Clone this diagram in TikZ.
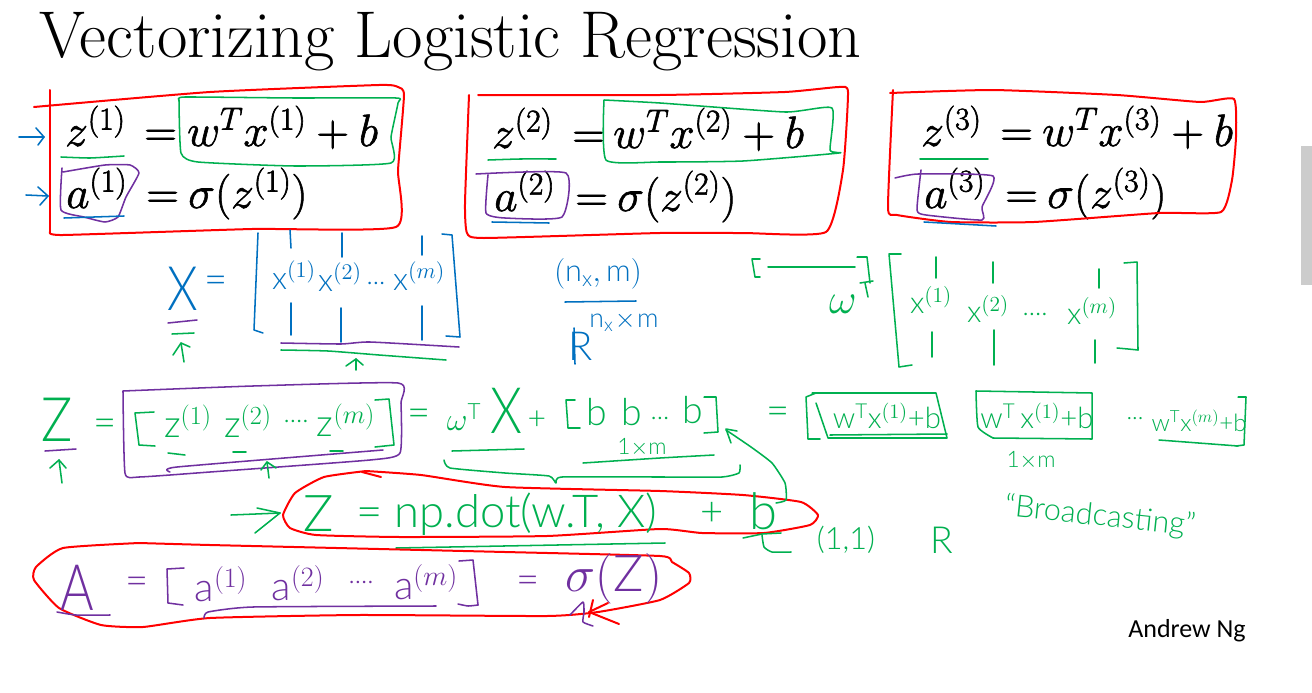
\documentclass[tikz,border=0pt]{standalone}
\usepackage{fix-cm}
\usepackage{fontspec}
\setsansfont{Lato Light}
\newfontfamily\ngfont{Carlito}
\definecolor{gr}{HTML}{00B050}
\definecolor{bl}{HTML}{0070C0}
\definecolor{pu}{HTML}{7030A0}
\definecolor{re}{HTML}{FF0000}
\newcommand{\curve}[2]{\draw[#1] plot[smooth,tension=0.3] coordinates {#2};}
\newcommand{\sx}{\mathsf{x}}
\newcommand{\sz}{\mathsf{z}}
\newcommand{\sa}{\mathsf{a}}
\newcommand{\sw}{\mathsf{w}}
\newcommand{\heavy}[1]{\special{pdf:code 2 Tr 0.45 w}#1\special{pdf:code 0 Tr}}
\tikzset{
  ink/.style={line width=1.15pt,line cap=round,line join=round},
  gk/.style={ink,draw=gr},
  bk/.style={ink,draw=bl},
  pk/.style={ink,draw=pu},
  rk/.style={line width=1.5pt,line cap=round,line join=round,draw=re},
  fs/.style={inner sep=0pt,font=\fontsize{#1}{#1}\selectfont\sffamily},
  prm/.style={inner sep=0pt,anchor=base west,text=black,font=\fontsize{34}{34}\selectfont},
}
\begin{document}
\begin{tikzpicture}[x=0.75pt,y=-0.75pt]
\useasboundingbox (0,0) rectangle (1312,692);
\fill[white] (0,0) rectangle (1312,692);
\fill[black!20] (1301,146) rectangle (1312,285);
% title
\node[inner sep=0pt,anchor=base west,font=\fontsize{49.6}{50}\selectfont] (title) at (39,58) {Vectorizing Logistic Regression};
\node[inner sep=0pt,font=\ngfont\fontsize{19.5}{20}\selectfont] (ng) at (1187,631) {Andrew Ng};
% printed equations
\node[prm] (z1) at (65,146) {\heavy{$z^{(1)}$}};
\node[prm] (e1) at (144,146) {\heavy{$=$}};
\node[prm] (r1) at (187,146) {\heavy{$w^Tx^{(1)}+b$}};
\node[prm] (a1) at (66,208) {\heavy{$a^{(1)}$}};
\node[prm] (f1) at (146,208) {\heavy{$=$}};
\node[prm] (s1) at (188,208) {\heavy{$\sigma(z^{(1)})$}};
\node[prm] (z2) at (492,148) {\heavy{$z^{(2)}$}};
\node[prm] (e2) at (572,148) {\heavy{$=$}};
\node[prm] (r2) at (613,148) {\heavy{$w^Tx^{(2)}+b$}};
\node[prm] (a2) at (494,211) {\heavy{$a^{(2)}$}};
\node[prm] (f2) at (575,211) {\heavy{$=$}};
\node[prm] (s2) at (617,211) {\heavy{$\sigma(z^{(2)})$}};
\node[prm] (z3) at (921,146) {\heavy{$z^{(3)}$}};
\node[prm] (e3) at (1000,146) {\heavy{$=$}};
\node[prm] (r3) at (1042,146) {\heavy{$w^Tx^{(3)}+b$}};
\node[prm] (a3) at (924,208) {\heavy{$a^{(3)}$}};
\node[prm] (f3) at (1005,208) {\heavy{$=$}};
\node[prm] (s3) at (1047,208) {\heavy{$\sigma(z^{(3)})$}};
% red boxes
\curve{rk}{(34,107)(210,92)(379,85)(398,87)(404,95)(398,170)(396,227)(252,229)(63,235)(50,232)}
\draw[rk] (50,232) -- (50,90);
\curve{rk}{(478,95)(660,95)(785,92)(839,87)(848,92)(843,170)(826,232)(743,233)(660,233)(484,238)(467,233)(465,203)(469,95)}
\curve{rk}{(890,93)(993,90)(1117,95)(1200,102)(1234,99)(1236,137)(1232,180)(1221,212)(1159,213)(1034,222)(951,222)(897,215)(888,208)(893,90)}
% green boxes and underlines
\curve{gk}{(179,100)(185,97)(295,98)(396,98)(398,103)(391,137)(391,163)(295,166)(198,162)(181,153)(179,100)}
\curve{gk}{(604,100)(660,103)(785,112)(832,108)(830,150)(839,153)(743,161)(660,162)(606,160)(604,100)}
\curve{gk}{(61,157)(90,158)(124,156)}
\curve{gk}{(488,160)(520,159)(556,159)}
\curve{gk}{(920,159)(988,159)}
% purple boxes
\curve{pk}{(62,168)(61,210)(84,217)(105,222)(118,217)(126,197)(139,173)(130,165)(105,165)(63,172)}
\curve{pk}{(476,174)(566,173)(562,217)(505,218)(486,213)(488,175)}
\curve{pk}{(895,178)(918,174)(993,176)(982,207)(982,220)(926,215)(917,210)(921,170)}
% blue marks
\draw[bk] (64,218) -- (124,216);
\draw[bk] (492,222) -- (549,223);
\draw[bk] (924,222) -- (996,226);
\draw[bk] (19,137) -- (44,137);
\draw[bk] (36,128) -- (44,137) -- (38,145);
\draw[bk] (26,195) -- (48,196);
\draw[bk] (38,187) -- (48,196) -- (40,205);
% X matrix
\node[fs=46,text=bl,xscale=0.8] (bigx) at (183,289) {X};
\node[fs=30,text=bl] (xeq) at (216,285) {=};
\draw[pk] (168,323) -- (197,320);
\draw[gk] (172,334) -- (194,333);
\draw[gk] (184,362) -- (181,343);
\draw[gk] (173,355) -- (181,343) -- (190,347);
\draw[bk] (258,233) -- (254,330) -- (263,333);
\draw[bk] (442,234) -- (452,235) -- (460,337) -- (446,336);
\draw[bk] (290,230) -- (291,248);
\draw[bk] (291,303) -- (291,335);
\draw[bk] (342,233) -- (342,257);
\draw[bk] (341,308) -- (341,342);
\draw[bk] (422,236) -- (422,255);
\draw[bk] (422,306) -- (422,340);
\node[fs=24,text=bl] (mx1) at (294,275) {$\sx^{(1)}$};
\node[fs=24,text=bl] (mx2) at (340,277) {$\sx^{(2)}$};
\node[fs=20,text=bl] (mxd) at (376,283) {...};
\node[fs=24,text=bl] (mx3) at (419,276) {$\sx^{(m)}$};
\curve{pk}{(281,343)(341,344)(370,342)(459,347)}
\curve{gk}{(281,350)(328,351)(379,355)(446,360)}
\draw[gk] (356,370) -- (356,359);
\draw[gk] (346,366) -- (356,359) -- (363,365);
% dimensions
\node[fs=23,text=bl] (dim) at (598,274) {$(\mathsf{n}_{\mathsf{x}},\mathsf{m})$};
\draw[bk] (565,302) -- (636,301);
\node[fs=30,text=bl] (rr) at (581,346) {R};
\draw[bk] (574,328) -- (575,364);
\node[fs=20,text=bl] (rexp) at (624,322) {$\mathsf{n}_{\mathsf{x}}\!\times\!\mathsf{m}$};
% green matrix
\draw[gk] (760,259) -- (752,259) -- (755,277) -- (760,277);
\draw[gk] (768,267) -- (855,267);
\draw[gk] (857,257) -- (867,257) -- (870,283);
\node[fs=32,text=gr] (w2) at (843,304) {$\omega$};
\draw[gk] (860,283) -- (873,281);
\draw[gk] (865,283) -- (868,297);
\draw[gk] (901,254) -- (889,254) -- (899,367) -- (912,365);
\draw[gk] (1124,263) -- (1137,262) -- (1138,350);
\curve{gk}{(1138,350)(1128,349)(1117,348)}
\draw[gk] (936,257) -- (936,278);
\draw[gk] (932,332) -- (932,357);
\draw[gk] (993,262) -- (993,283);
\draw[gk] (994,330) -- (994,365);
\draw[gk] (1099,269) -- (1099,288);
\draw[gk] (1095,340) -- (1095,363);
\node[fs=23,text=gr] (gx1) at (931,300) {$\sx^{(1)}$};
\node[fs=23,text=gr] (gx2) at (988,309) {$\sx^{(2)}$};
\node[fs=20,text=gr] (gxd) at (1035,314) {....};
\node[fs=23,text=gr] (gx3) at (1092,311) {$\sx^{(m)}$};
% Z row
\node[fs=46,text=gr,xscale=0.85] (bigz) at (57,420) {Z};
\draw[pk] (45,451) -- (76,449);
\draw[gk] (62,483) -- (59,460);
\draw[gk] (50,468) -- (59,460) -- (66,468);
\node[fs=30,text=gr] (zeq) at (105,428) {=};
\curve{pk}{(123,391)(253,386)(398,383)(401,403)(400,453)(370,460)(210,472)(139,477)(125,473)(123,391)}
\curve{pk}{(170,472)(177,467)(383,450)}
\draw[gk] (154,412) -- (135,413) -- (139,445) -- (155,446);
\draw[gk] (375,400) -- (389,399) -- (394,445) -- (375,447);
\node[fs=28,text=gr] (zz1) at (188,421) {$\sz^{(1)}$};
\node[fs=28,text=gr] (zz2) at (248,421) {$\sz^{(2)}$};
\node[fs=20,text=gr] (zzd) at (296,421) {....};
\node[fs=28,text=gr] (zz3) at (346,420) {$\sz^{(m)}$};
\draw[gk] (168,453) -- (185,455);
\draw[gk] (233,452) -- (246,452);
\draw[gk] (330,451) -- (343,451);
\draw[gk] (269,478) -- (267,462);
\draw[gk] (261,470) -- (267,462) -- (276,468);
\node[fs=30,text=gr] (zeq2) at (419,418) {=};
\node[fs=24,text=gr] (wt) at (464,417) {$\omega^{\mathsf{T}}$};
\node[fs=48,text=gr,xscale=0.8] (bigx2) at (506,411) {X};
\node[fs=24,text=gr] (plus) at (537,420) {+};
\draw[gk] (575,400) -- (566,400) -- (568,428) -- (580,428);
\node[fs=28,text=gr] (bb1) at (597,412) {b};
\node[fs=28,text=gr] (bb2) at (632,412) {b};
\node[fs=20,text=gr] (bbd) at (660,418) {...};
\node[fs=28,text=gr] (bb3) at (693,410) {b};
\draw[gk] (704,397) -- (716,397) -- (718,432) -- (704,433);
\draw[gk] (452,451) -- (524,449);
\node[fs=17,text=gr] (sz1) at (642,447) {1$\times$m};
\curve{gk}{(583,463)(660,458)(714,455)}
\curve{gk}{(444,460)(450,468)(505,473)(549,476)(556,483)(562,477)(660,477)(722,477)(739,473)(740,465)}
% right result
\node[fs=30,text=gr] (req) at (778,416) {=};
\draw[gk] (816,393) -- (806,397) -- (808,439) -- (820,439);
\draw[gk] (812,393) -- (936,393) -- (947,438) -- (828,438) -- (816,403);
\draw[gk] (830,435) -- (947,434);
\node[fs=22,text=gr] (t1) at (887,416) {$\sw^{\mathsf{T}}\sx^{(1)}$+b};
\draw[gk] (976,391) -- (1092,393) -- (1092,439) -- (993,438);
\curve{gk}{(993,438)(978,427)(976,391)}
\node[fs=22,text=gr] (t2) at (1037,416) {$\sw^{\mathsf{T}}\,\sx^{(1)}$+b};
\node[fs=17,text=gr] (sz2) at (1031,460) {1$\times$m};
\node[fs=18,text=gr] (rd) at (1135,419) {...};
\node[fs=18,text=gr] (t3) at (1199,421) {$\sw^{\mathsf{T}}\sx^{(m)}$+b};
\draw[gk] (1238,397) -- (1246,397) -- (1244,445) -- (1236,446);
\draw[gk] (1159,440) -- (1238,446);
% np.dot line
\curve{rk}{(366,471)(421,475)(505,487)(660,491)(743,495)(801,502)(818,515)(810,525)(764,533)(702,533)(660,529)(547,536)(400,537)(316,535)(290,528)(283,515)(295,493)(324,477)(366,471)}
\draw[rk] (362,472) -- (381,477);
\draw[gk] (231,515) -- (280,513);
\draw[gk] (257,508) -- (280,513) -- (255,533);
\node[fs=38,text=gr] (nz) at (319,514) {Z};
\node[fs=34,text=gr,anchor=west] (npdot) at (356,514) {= np.dot(w.T, X)};
\node[fs=30,text=gr] (np2) at (712,514) {+};
\node[fs=38,text=gr] (np3) at (763,511) {b};
\draw[gk] (396,548) -- (665,543);
\curve{gk}{(776,503)(786,500)(785,483)(772,463)(751,447)(726,430)}
\draw[gk] (737,431) -- (726,429) -- (731,443);
\curve{gk}{(791,552)(772,552)(764,547)(762,535)}
\draw[gk] (743,538) -- (762,534) -- (781,533);
\node[fs=23,text=gr] (one) at (846,540) {(1,1)};
\node[fs=28,text=gr] (rr2) at (942,540) {R};
\node[fs=23,text=gr,rotate=-6] (bc) at (1100,517) {``Broadcasting''};
% A line
\curve{rk}{(139,543)(63,548)(36,567)(34,580)(59,608)(101,625)(143,627)(210,618)(358,615)(547,616)(598,612)(660,600)(689,583)(689,573)(672,562)(660,556)(505,552)(379,549)(210,545)(139,543)}
\node[fs=48,text=pu,xscale=0.8] (aa) at (77,588) {A};
\curve{pk}{(57,612)(76,615)(110,615)}
\node[fs=30,text=pu] (aeq) at (137,586) {=};
\draw[pk] (184,568) -- (167,569) -- (168,603) -- (183,605);
\node[fs=30,text=pu] (aa1) at (221,584) {$\sa^{(1)}$};
\node[fs=30,text=pu] (aa2) at (298,583) {$\sa^{(2)}$};
\node[fs=20,text=pu] (aad) at (361,582) {....};
\node[fs=30,text=pu] (aa3) at (426,582) {$\sa^{(m)}$};
\draw[pk] (459,561) -- (473,560) -- (478,605);
\curve{pk}{(478,605)(468,606)(458,604)}
\curve{pk}{(204,618)(208,612)(253,607)(436,606)}
\node[fs=30,text=pu] (aeq2) at (528,585) {=};
\node[fs=38,text=pu] (sig) at (614,579) {$\sigma(\mathsf{Z})$};
\curve{pk}{(570,615)(583,602)(584,612)(583,622)(593,626)}
\draw[rk] (593,600) -- (589,617);
\draw[rk] (608,603) -- (589,612) -- (619,624);
\end{tikzpicture}
\end{document}
